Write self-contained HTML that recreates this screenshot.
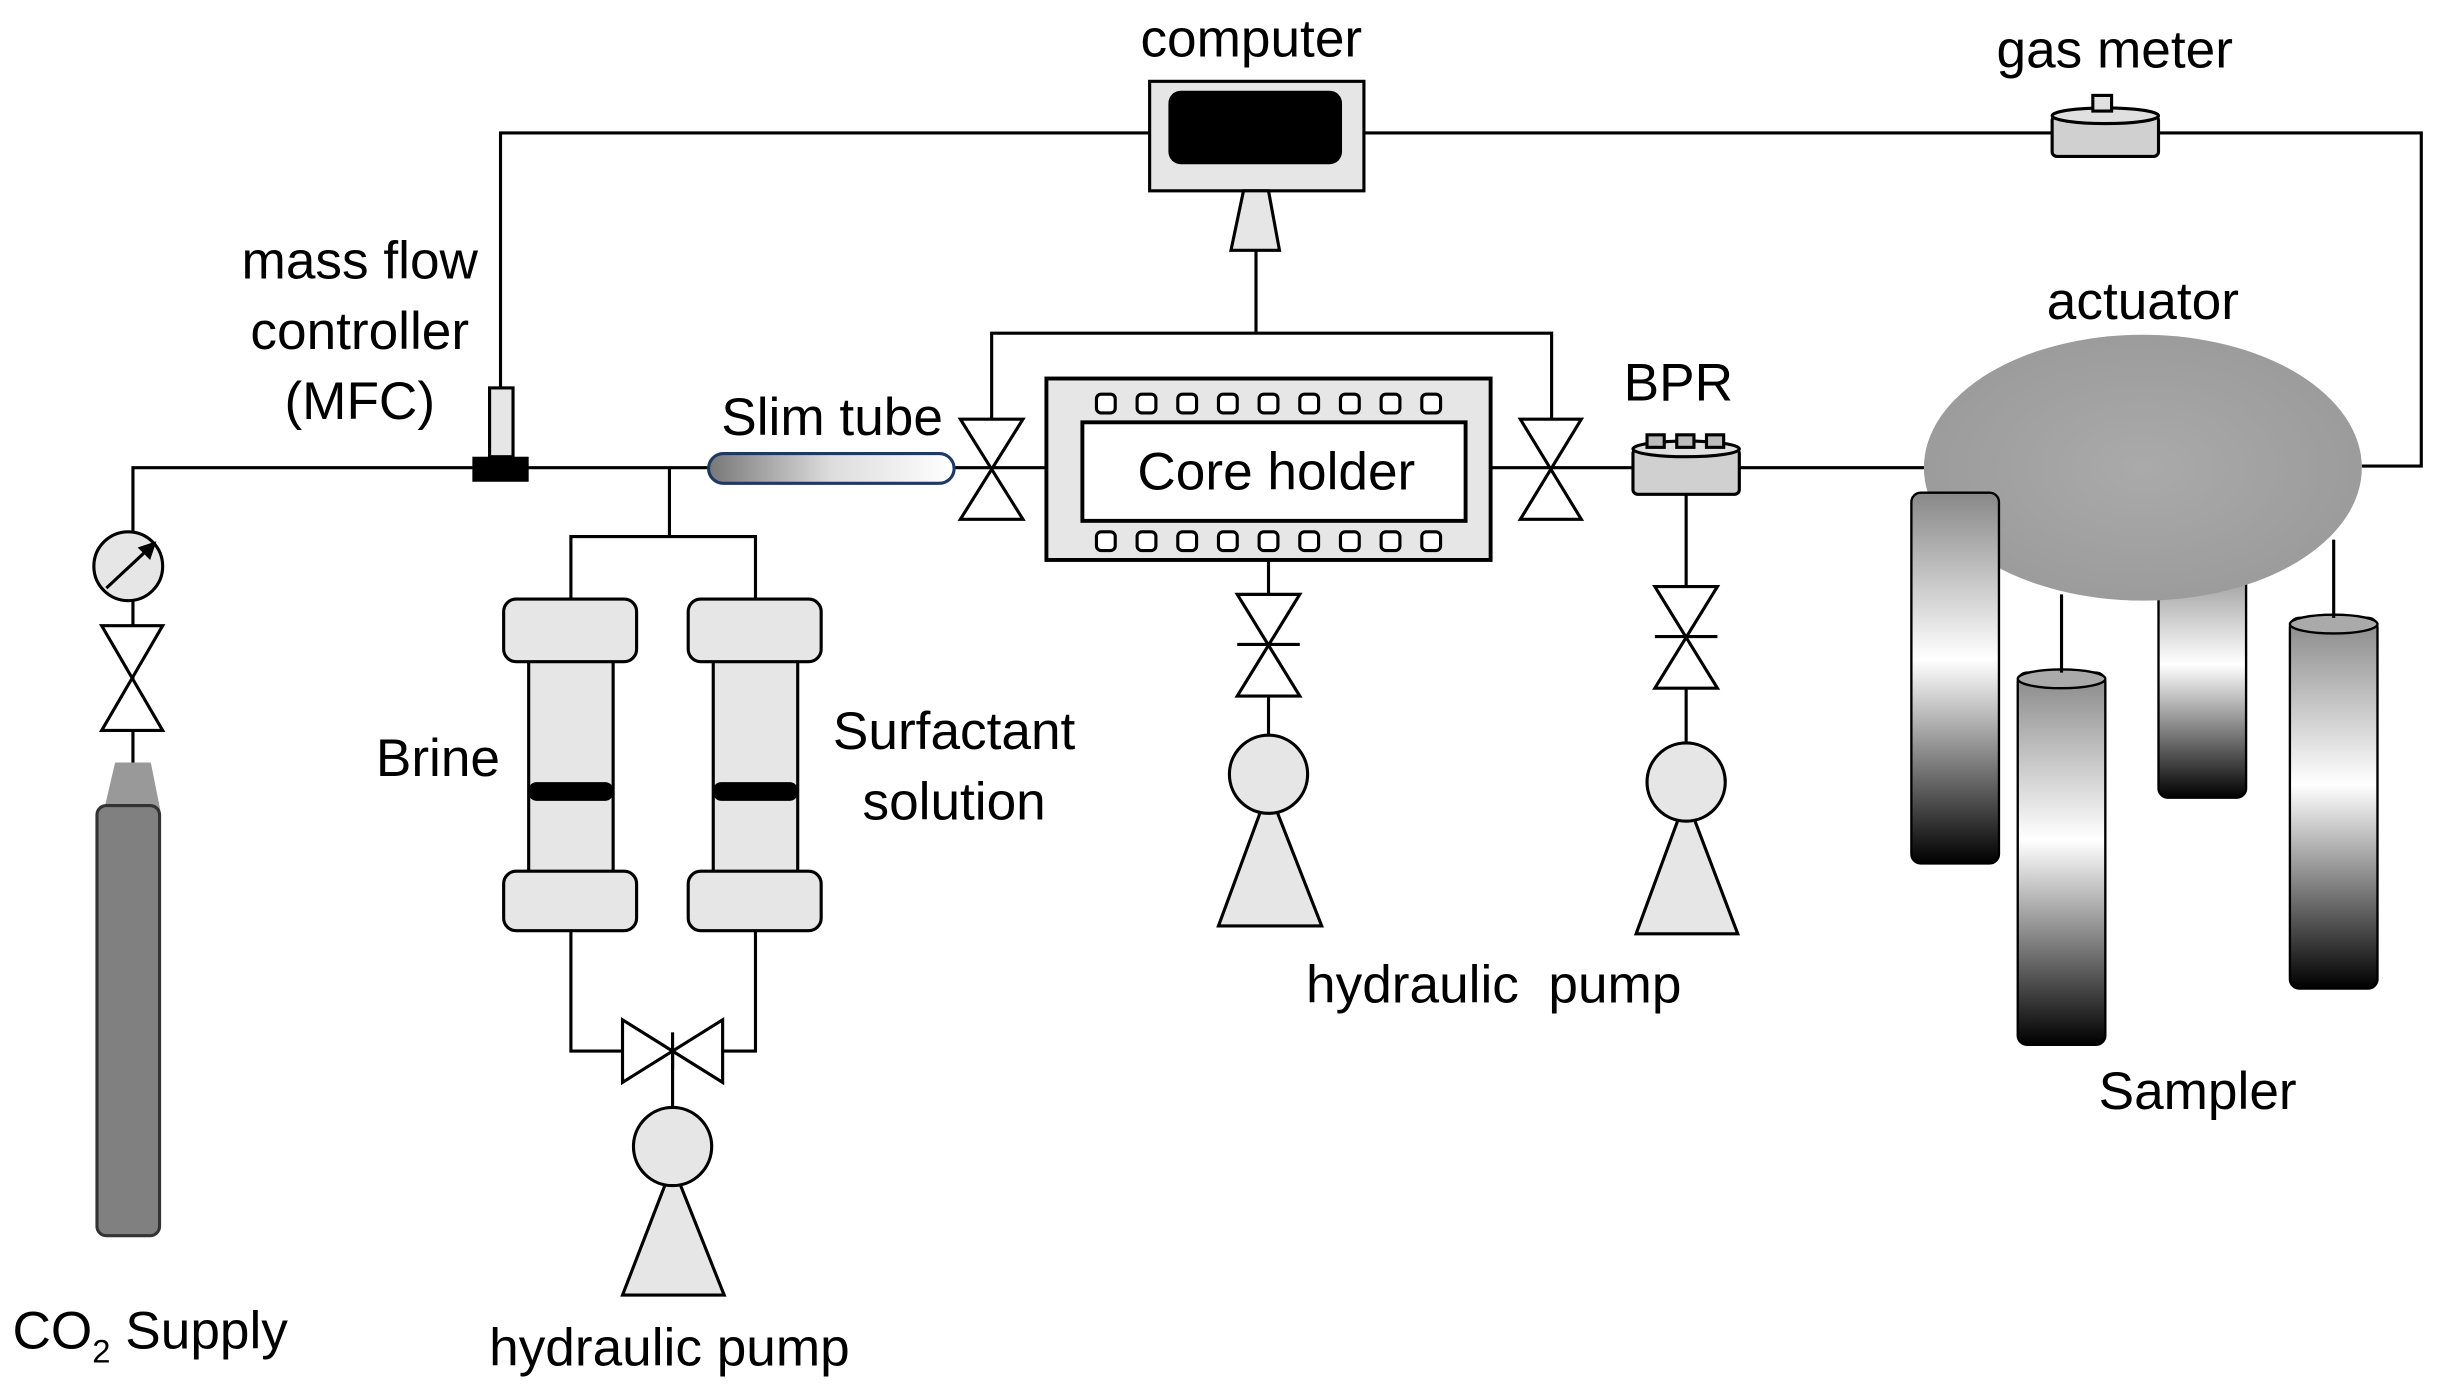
<!DOCTYPE html>
<html><head><meta charset="utf-8"><style>html,body{margin:0;padding:0;background:#fff}svg{display:block}text{font-family:"Liberation Sans",sans-serif;font-size:34px;fill:#000}</style></head>
<body>
<svg width="2451" height="1396" viewBox="0 0 1567 892.5" preserveAspectRatio="none" xmlns="http://www.w3.org/2000/svg">
<defs>
<linearGradient id="tube" x1="0" y1="0" x2="1" y2="0"><stop offset="0" stop-color="#777"/><stop offset="0.5" stop-color="#ddd"/><stop offset="1" stop-color="#fff"/></linearGradient>
<linearGradient id="cyl" x1="0" y1="0" x2="0" y2="1"><stop offset="0" stop-color="#888"/><stop offset="0.45" stop-color="#fff"/><stop offset="1" stop-color="#000"/></linearGradient>
<radialGradient id="ell" cx="0.5" cy="0.5" r="0.6"><stop offset="0" stop-color="#aaa"/><stop offset="1" stop-color="#999"/></radialGradient>
</defs>
<g stroke="#000" stroke-width="2" fill="none">
<polyline points="320,248 320,85 735,85"/>
<polyline points="872,85 1548,85 1548,298 1510,298"/>
<line x1="803" y1="160" x2="803" y2="213"/>
<polyline points="634,268 634,213 992,213 992,268"/>
<polyline points="85,340 85,299 455,299"/>
<line x1="610" y1="299" x2="670" y2="299"/>
<line x1="953" y1="299" x2="1045" y2="299"/>
<line x1="1112" y1="299" x2="1232" y2="299"/>
<line x1="428" y1="299" x2="428" y2="343"/>
<polyline points="365,383 365,343 483,343 483,383"/>
<polyline points="365,595 365,672 398,672"/>
<polyline points="483,595 483,672 462,672"/>
<line x1="430" y1="672" x2="430" y2="708"/>
<line x1="811" y1="358" x2="811" y2="470"/>
<line x1="1078" y1="316" x2="1078" y2="475"/>
<line x1="85" y1="384" x2="85" y2="488"/>
</g>
<rect x="735" y="52" width="137" height="70" fill="#e6e6e6" stroke="#000" stroke-width="2"/>
<rect x="747" y="58" width="111" height="47" rx="8" fill="#000"/>
<polygon points="795,122 811,122 818,160 787,160" fill="#e6e6e6" stroke="#000" stroke-width="2"/>
<rect x="1312" y="74" width="68" height="26" rx="3" fill="#d0d0d0" stroke="#000" stroke-width="2"/>
<ellipse cx="1346" cy="74" rx="34" ry="5" fill="#e0e0e0" stroke="#000" stroke-width="2"/>
<rect x="1338" y="61" width="12" height="10" fill="#e0e0e0" stroke="#000" stroke-width="2"/>
<rect x="313" y="248" width="15" height="44" fill="#e6e6e6" stroke="#000" stroke-width="2"/>
<rect x="302" y="292" width="36" height="16" fill="#000"/>
<rect x="453" y="290" width="157" height="19" rx="9.5" fill="url(#tube)" stroke="#1f3864" stroke-width="2"/>
<g fill="#fff" stroke="#000" stroke-width="2">
<polygon points="614,268 654,268 614,332 654,332"/>
<polygon points="972,268 1011,268 972,332 1011,332"/>
<polygon points="65,400 104,400 65,467 104,467"/>
<polygon points="791,380 831,380 791,445 831,445"/>
<polygon points="1058,375 1098,375 1058,440 1098,440"/>
<polygon points="398,652 398,692 462,652 462,692"/>
</g>
<g stroke="#000" stroke-width="2">
<line x1="791" y1="412" x2="831" y2="412"/>
<line x1="1058" y1="407" x2="1098" y2="407"/>
<line x1="430" y1="660" x2="430" y2="684"/>
</g>
<rect x="669" y="242" width="284" height="116" fill="#e6e6e6" stroke="#000" stroke-width="2.5"/>
<rect x="692" y="270" width="245" height="63" fill="#fff" stroke="#000" stroke-width="2.5"/>
<g fill="#fff" stroke="#000" stroke-width="2">
<rect x="701" y="252" width="12" height="12" rx="3"/><rect x="727" y="252" width="12" height="12" rx="3"/><rect x="753" y="252" width="12" height="12" rx="3"/><rect x="779" y="252" width="12" height="12" rx="3"/><rect x="805" y="252" width="12" height="12" rx="3"/><rect x="831" y="252" width="12" height="12" rx="3"/><rect x="857" y="252" width="12" height="12" rx="3"/><rect x="883" y="252" width="12" height="12" rx="3"/><rect x="909" y="252" width="12" height="12" rx="3"/>
<rect x="701" y="340" width="12" height="12" rx="3"/><rect x="727" y="340" width="12" height="12" rx="3"/><rect x="753" y="340" width="12" height="12" rx="3"/><rect x="779" y="340" width="12" height="12" rx="3"/><rect x="805" y="340" width="12" height="12" rx="3"/><rect x="831" y="340" width="12" height="12" rx="3"/><rect x="857" y="340" width="12" height="12" rx="3"/><rect x="883" y="340" width="12" height="12" rx="3"/><rect x="909" y="340" width="12" height="12" rx="3"/>
</g>
<rect x="1044" y="287" width="68" height="29" rx="3" fill="#d0d0d0" stroke="#000" stroke-width="2"/>
<ellipse cx="1078" cy="287" rx="34" ry="5" fill="#e0e0e0" stroke="#000" stroke-width="2"/>
<g fill="#bbb" stroke="#000" stroke-width="2"><rect x="1053" y="278" width="11" height="8"/><rect x="1072" y="278" width="11" height="8"/><rect x="1091" y="278" width="11" height="8"/></g>
<g fill="#e6e6e6" stroke="#000" stroke-width="2">
<polygon points="811,505 845,592 779,592"/><circle cx="811" cy="495" r="25"/>
<polygon points="1078,510 1111,597 1046,597"/><circle cx="1078" cy="500" r="25"/>
<polygon points="430,745 463,828 398,828"/><circle cx="430" cy="733" r="25"/>
</g>
<g fill="#e6e6e6" stroke="#000" stroke-width="2">
<rect x="338" y="420" width="54" height="140"/><rect x="322" y="383" width="85" height="40" rx="8"/><rect x="322" y="557" width="85" height="38" rx="8"/>
<rect x="456" y="420" width="54" height="140"/><rect x="440" y="383" width="85" height="40" rx="8"/><rect x="440" y="557" width="85" height="38" rx="8"/>
</g>
<rect x="338" y="500" width="54" height="12" rx="5" fill="#000"/>
<rect x="456" y="500" width="54" height="12" rx="5" fill="#000"/>
<circle cx="82" cy="362" r="22" fill="#e6e6e6" stroke="#000" stroke-width="2"/>
<line x1="68" y1="376" x2="98" y2="348" stroke="#000" stroke-width="2"/>
<polygon points="100,346 88,350 96,358" fill="#000"/>
<polygon points="74,488 96,488 102,518 67,518" fill="#999" stroke="#999"/>
<rect x="62" y="515" width="40" height="275" rx="6" fill="#808080" stroke="#333" stroke-width="2"/>
<g stroke="#000" stroke-width="1.5">
<rect x="1380" y="355" width="56" height="155" rx="6" fill="url(#cyl)"/>
<ellipse cx="1370" cy="299" rx="140" ry="85" fill="url(#ell)" stroke="none"/>
<rect x="1222" y="315" width="56" height="237" rx="6" fill="url(#cyl)"/>
<rect x="1290" y="430" width="56" height="238" rx="6" fill="url(#cyl)"/>
<ellipse cx="1318" cy="434" rx="28" ry="6" fill="#aaa"/>
<rect x="1464" y="395" width="56" height="237" rx="6" fill="url(#cyl)"/>
<ellipse cx="1492" cy="399" rx="28" ry="6" fill="#aaa"/>
</g>
<line x1="1318" y1="380" x2="1318" y2="430" stroke="#000" stroke-width="2"/>
<line x1="1492" y1="345" x2="1492" y2="395" stroke="#000" stroke-width="2"/>
<g text-anchor="middle">
<text x="800" y="36">computer</text>
<text x="1352" y="43">gas meter</text>
<text x="230" y="178">mass flow</text>
<text x="230" y="223">controller</text>
<text x="230" y="268">(MFC)</text>
<text x="532" y="278">Slim tube</text>
<text x="816" y="313">Core holder</text>
<text x="1073" y="256">BPR</text>
<text x="1370" y="204">actuator</text>
<text x="280" y="496">Brine</text>
<text x="610" y="479">Surfactant</text>
<text x="610" y="524">solution</text>
<text x="955" y="641" xml:space="preserve">hydraulic  pump</text>
<text x="1405" y="709">Sampler</text>
<text x="428" y="873">hydraulic pump</text>
</g>
<text x="8" y="862">CO<tspan font-size="21" dy="9">2</tspan><tspan dy="-9"> Supply</tspan></text>
</svg>
</body></html>
